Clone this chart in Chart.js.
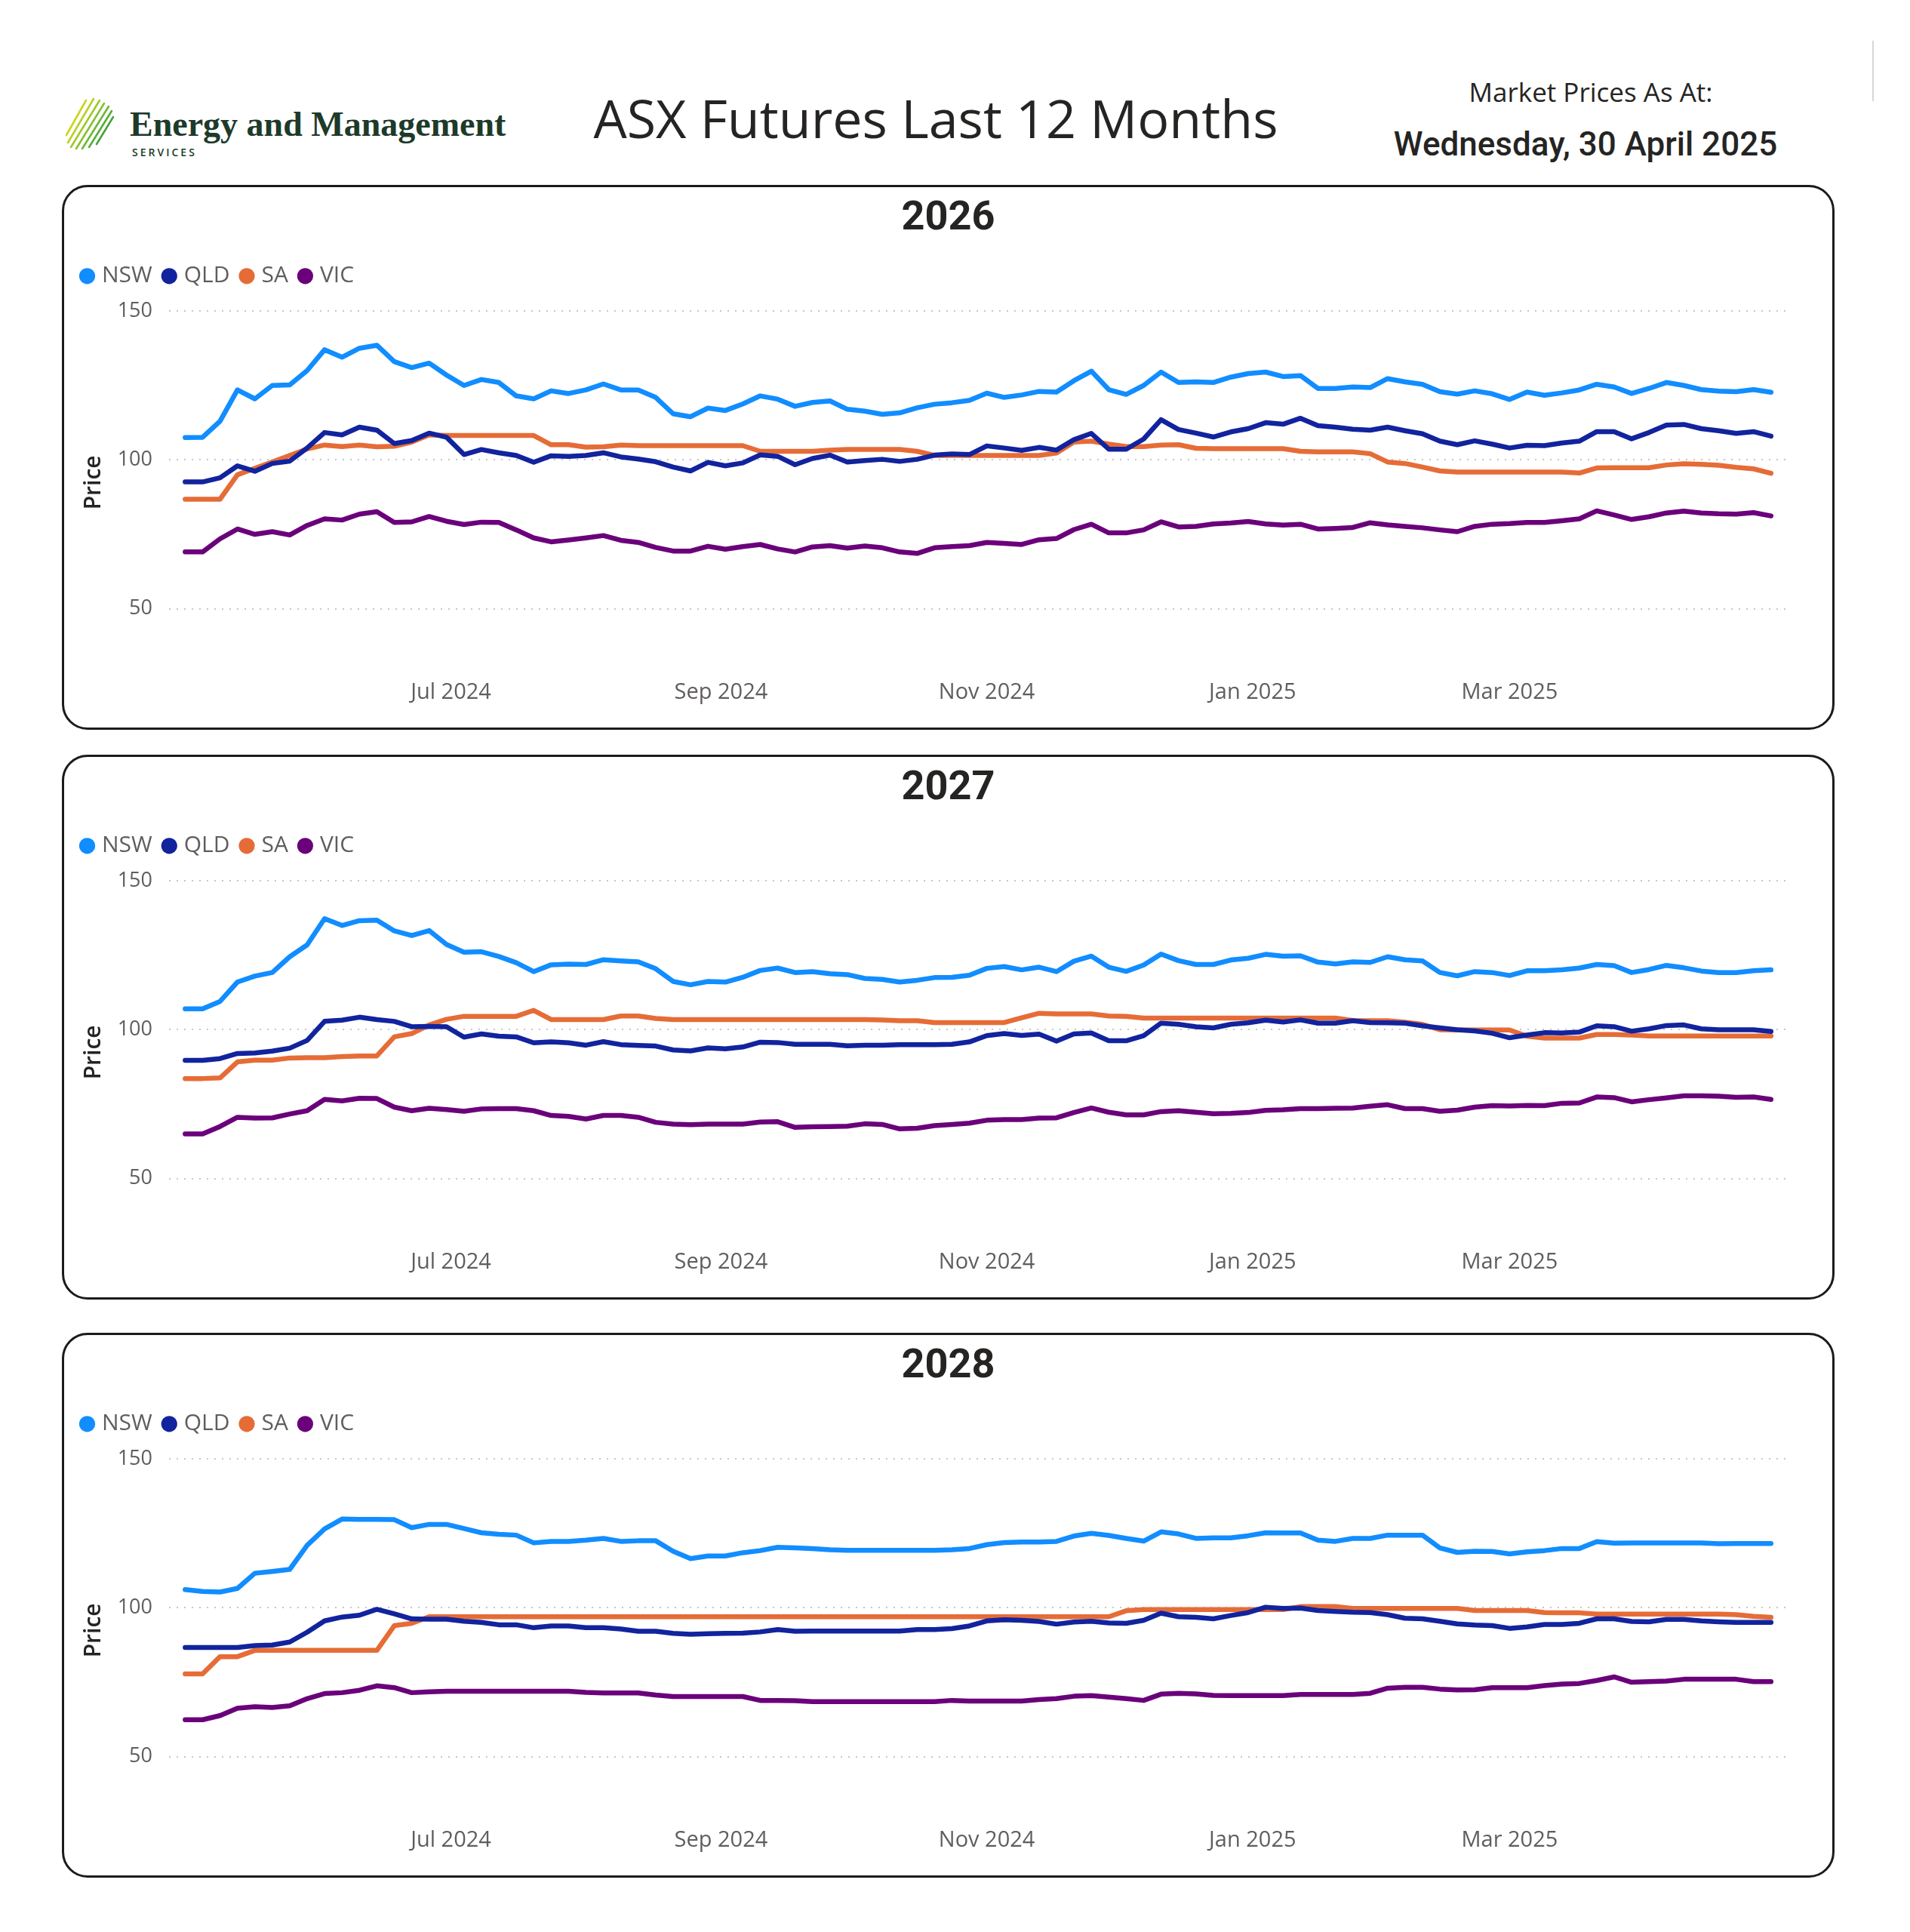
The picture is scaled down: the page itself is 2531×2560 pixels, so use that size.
<!DOCTYPE html>
<html>
<head>
<meta charset="utf-8">
<script src="https://cdn.jsdelivr.net/npm/chart.js@4.4.1/dist/chart.umd.min.js"></script>
<style>
  body { margin: 0; background: #fff; }
  #page { position: relative; width: 2531px; height: 2560px; overflow: hidden; font-family: 'Open Sans', sans-serif; color: #252423; }
  .abs { position: absolute; white-space: nowrap; }
  .panel { position: absolute; left: 82px; width: 2343px; height: 716px; border: 3px solid #1b1b1b; border-radius: 34px; }
  .panel canvas { position: absolute; left: 0; top: 0; }
</style>
</head>
<body>
<div id="page">
  <svg class="abs" style="left:84px;top:127px" width="74" height="74" viewBox="0 0 74 74">
    <g stroke-width="2.6" stroke-linecap="round">
      <line x1="4"  y1="52" x2="30" y2="6"  stroke="#c9d61a"/>
      <line x1="6"  y1="62" x2="40" y2="4"  stroke="#b7d027"/>
      <line x1="10" y1="68" x2="48" y2="6"  stroke="#9ec92d"/>
      <line x1="17" y1="70" x2="54" y2="10" stroke="#86c133"/>
      <line x1="25" y1="70" x2="60" y2="14" stroke="#6db838"/>
      <line x1="34" y1="68" x2="64" y2="20" stroke="#58ae3a"/>
      <line x1="44" y1="64" x2="66" y2="28" stroke="#47a43b"/>
    </g>
  </svg>
  <div class="abs" style="left:172px;top:142px;font-family:'Liberation Serif',serif;font-weight:bold;font-size:46px;line-height:46px;color:#1d3a2a">Energy and Management</div>
  <div class="abs" style="left:175px;top:194px;font-size:14px;line-height:16px;letter-spacing:3px;font-weight:600;color:#1d3a2a">SERVICES</div>
  <div class="abs" style="left:640px;width:1200px;top:116px;text-align:center;font-size:70px;line-height:80px">ASX Futures Last 12 Months</div>
  <div class="abs" style="left:1808px;width:600px;top:102px;text-align:center;font-size:35px;line-height:40px">Market Prices As At:</div>
  <div class="abs" style="left:1801px;width:600px;top:166px;text-align:center;font-family:Roboto,sans-serif;font-weight:500;font-size:44px;line-height:50px">Wednesday, 30 April 2025</div>
  <div class="abs" style="left:2481px;top:54px;width:2px;height:80px;background:#d6d6d6"></div>

  <div class="panel" style="top:245px"><canvas id="c2026" width="2343" height="716"></canvas></div>
  <div class="panel" style="top:1000px"><canvas id="c2027" width="2343" height="716"></canvas></div>
  <div class="panel" style="top:1766px"><canvas id="c2028" width="2343" height="716"></canvas></div>
</div>
<script>
// days since 1 May 2024, one reading every 4 days
const days = [
  0, 4, 8, 12, 16, 20, 24, 28, 32, 36,
  40, 44, 48, 52, 56, 60, 64, 68, 72, 76,
  80, 84, 88, 92, 96, 100, 104, 108, 112, 116,
  120, 124, 128, 132, 136, 140, 144, 148, 152, 156,
  160, 164, 168, 172, 176, 180, 184, 188, 192, 196,
  200, 204, 208, 212, 216, 220, 224, 228, 232, 236,
  240, 244, 248, 252, 256, 260, 264, 268, 272, 276,
  280, 284, 288, 292, 296, 300, 304, 308, 312, 316,
  320, 324, 328, 332, 336, 340, 344, 348, 352, 356,
  360, 364
];

// x axis labels (first of month)
const tickDays = [61, 123, 184, 245, 304];
const tickLabels = ['Jul 2024', 'Sep 2024', 'Nov 2024', 'Jan 2025', 'Mar 2025'];
const priceTicks = [50, 100, 150];

const states = ['NSW', 'QLD', 'SA', 'VIC'];
const colours = ['#118DFF', '#12239E', '#E66C37', '#6B007B'];

// ---- 2026 ----
const nsw2026 = [
  107.5, 107.6, 113, 123.5, 120.5, 125, 125.2, 130, 137, 134.5,
  137.5, 138.5, 133, 131, 132.5, 128.5, 125, 127, 126, 121.5,
  120.5, 123.2, 122.3, 123.5, 125.5, 123.5, 123.5, 121, 115.5, 114.5,
  117.4, 116.6, 118.8, 121.5, 120.4, 118, 119.3, 119.8, 117, 116.4,
  115.3, 115.8, 117.5, 118.7, 119.2, 120, 122.4, 121, 121.8, 123,
  122.8, 126.6, 129.8, 123.6, 122, 125, 129.5, 126, 126.2, 126,
  127.8, 129, 129.5, 128, 128.3, 124, 124, 124.5, 124.3, 127.3,
  126.2, 125.4, 122.9, 122.1, 123.2, 122.2, 120.3, 122.8, 121.7, 122.5,
  123.5, 125.4, 124.5, 122.3, 124, 126, 125, 123.6, 123.1, 122.9,
  123.6, 122.7
];
const qld2026 = [
  92.6, 92.6, 94, 98, 96.2, 98.8, 99.6, 104, 109.2, 108.4,
  111, 110, 105.5, 106.5, 109, 107.6, 101.8, 103.5, 102.4, 101.5,
  99.2, 101.4, 101.2, 101.5, 102.4, 101, 100.3, 99.4, 97.6, 96.3,
  99.2, 98, 99, 101.7, 101.2, 98.4, 100.5, 101.6, 99.3, 99.8,
  100.2, 99.5, 100.2, 101.6, 102, 101.8, 104.7, 104, 103.2, 104.2,
  103.3, 106.8, 108.9, 103.6, 103.6, 107, 113.5, 110.2, 109, 107.7,
  109.4, 110.5, 112.5, 112, 114, 111.5, 111, 110.3, 110, 111,
  109.8, 108.8, 106.3, 105.1, 106.4, 105.3, 104, 104.9, 104.8, 105.7,
  106.3, 109.5, 109.5, 107.1, 109.2, 111.7, 111.9, 110.5, 109.8, 108.9,
  109.5, 108
];
const sa2026 = [
  86.8, 86.8, 86.8, 95, 97.2, 99.3, 101.5, 103.7, 105, 104.5,
  105, 104.4, 104.6, 106, 108.4, 108.2, 108.2, 108.2, 108.2, 108.2,
  108.2, 105.1, 105.1, 104.3, 104.4, 105, 104.8, 104.8, 104.8, 104.8,
  104.8, 104.8, 104.8, 102.9, 102.9, 102.9, 102.9, 103.3, 103.5, 103.5,
  103.5, 103.5, 102.9, 101.5, 101.5, 101.5, 101.5, 101.5, 101.5, 101.5,
  102.3, 106, 106.3, 105.3, 104.5, 104.5, 105, 105.1, 103.9, 103.8,
  103.8, 103.8, 103.8, 103.8, 102.9, 102.7, 102.7, 102.7, 102.1, 99.3,
  98.8, 97.6, 96.3, 95.9, 95.9, 95.9, 95.9, 95.9, 95.9, 95.9,
  95.6, 97.3, 97.4, 97.4, 97.4, 98.3, 98.7, 98.5, 98.2, 97.5,
  97, 95.5
];
const vic2026 = [
  69.1, 69.1, 73.5, 76.8, 75, 75.9, 74.8, 78, 80.2, 79.8,
  81.8, 82.6, 79, 79.2, 81, 79.4, 78.3, 79.1, 79, 76.5,
  73.8, 72.5, 73.1, 73.8, 74.6, 73, 72.3, 70.6, 69.4, 69.4,
  71, 70, 70.9, 71.6, 70.1, 69.1, 70.8, 71.2, 70.4, 71.1,
  70.5, 69.1, 68.6, 70.5, 70.9, 71.2, 72.3, 72, 71.6, 73.2,
  73.6, 76.6, 78.4, 75.5, 75.5, 76.5, 79.2, 77.5, 77.7, 78.5,
  78.8, 79.3, 78.5, 78.1, 78.4, 76.8, 77, 77.3, 78.9, 78.2,
  77.7, 77.2, 76.5, 75.9, 77.7, 78.4, 78.6, 79, 79, 79.6,
  80.2, 82.9, 81.5, 80, 80.9, 82.2, 82.8, 82.2, 81.9, 81.8,
  82.3, 81.2
];

// ---- 2027 ----
const nsw2027 = [
  107, 107, 109.5, 116, 118, 119.2, 124.5, 128.5, 137.3, 135,
  136.6, 136.8, 133.2, 131.6, 133.3, 128.6, 126, 126.2, 124.6, 122.5,
  119.5, 121.8, 122, 121.9, 123.5, 123.1, 122.8, 120.5, 116.2, 115.1,
  116.2, 116, 117.6, 119.9, 120.7, 119.2, 119.5, 118.8, 118.5, 117.2,
  116.9, 116, 116.6, 117.5, 117.6, 118.3, 120.6, 121.2, 120.1, 121,
  119.5, 123, 124.7, 121, 119.6, 121.7, 125.4, 123.2, 121.9, 121.9,
  123.4, 124, 125.3, 124.7, 124.8, 122.7, 122.1, 122.8, 122.6, 124.5,
  123.5, 123.1, 119.2, 118.1, 119.5, 119.2, 118.2, 119.8, 119.8, 120.1,
  120.7, 121.9, 121.5, 119.2, 120.2, 121.6, 120.8, 119.7, 119.2, 119.2,
  119.8, 120.1
];
const qld2027 = [
  89.7, 89.7, 90.3, 92, 92.2, 92.8, 93.8, 96.4, 102.8, 103.2,
  104.2, 103.4, 102.8, 101, 101.1, 101, 97.5, 98.6, 97.8, 97.6,
  95.6, 95.9, 95.6, 94.8, 96, 95, 94.7, 94.5, 93.2, 92.9,
  93.9, 93.6, 94.2, 95.8, 95.7, 95.1, 95.1, 95.1, 94.6, 94.8,
  94.8, 95, 95, 95, 95.1, 95.9, 98, 98.7, 98.1, 98.5,
  96.2, 98.6, 98.9, 96.3, 96.3, 98, 102.2, 101.8, 101, 100.6,
  101.8, 102.3, 103.2, 102.6, 103.3, 102.2, 102.2, 103, 102.4, 102.3,
  102.2, 101.3, 100.6, 100, 99.6, 98.8, 97.3, 98.2, 99, 98.9,
  99.2, 101.3, 101, 99.5, 100.3, 101.4, 101.6, 100.3, 100, 100,
  100, 99.4
];
const sa2027 = [
  83.6, 83.6, 83.8, 89.2, 89.8, 89.8, 90.5, 90.6, 90.6, 91,
  91.2, 91.2, 97.6, 98.7, 101.6, 103.5, 104.5, 104.5, 104.5, 104.5,
  106.5, 103.4, 103.4, 103.4, 103.4, 104.6, 104.6, 103.8, 103.4, 103.4,
  103.4, 103.4, 103.4, 103.4, 103.4, 103.4, 103.4, 103.4, 103.4, 103.4,
  103.3, 103, 103, 102.4, 102.4, 102.4, 102.4, 102.4, 104, 105.5,
  105.3, 105.3, 105.3, 104.6, 104.5, 103.9, 103.9, 103.9, 103.9, 103.9,
  103.9, 103.9, 103.9, 103.9, 103.9, 103.9, 103.9, 103.1, 103, 103,
  102.5, 101.8, 100, 99.9, 99.9, 99.9, 99.9, 97.8, 97.2, 97.2,
  97.2, 98.4, 98.4, 98.2, 97.9, 97.9, 97.9, 97.9, 97.9, 97.9,
  97.9, 97.9
];
const vic2027 = [
  65, 65, 67.5, 70.6, 70.3, 70.4, 71.7, 72.8, 76.6, 76.1,
  77, 76.9, 74, 72.8, 73.6, 73.2, 72.6, 73.4, 73.5, 73.5,
  72.8, 71.2, 70.9, 70, 71.2, 71.2, 70.6, 68.9, 68.3, 68.1,
  68.3, 68.3, 68.3, 69, 69.1, 67.2, 67.4, 67.5, 67.6, 68.4,
  68.2, 66.7, 66.9, 67.8, 68.2, 68.6, 69.6, 69.8, 69.8, 70.3,
  70.4, 72.2, 73.7, 72.3, 71.4, 71.4, 72.5, 72.8, 72.3, 71.8,
  71.9, 72.2, 72.9, 73.1, 73.5, 73.5, 73.6, 73.7, 74.3, 74.8,
  73.5, 73.5, 72.6, 73, 74, 74.5, 74.4, 74.6, 74.5, 75.3,
  75.4, 77.4, 77.2, 75.8, 76.5, 77.1, 77.8, 77.8, 77.7, 77.3,
  77.4, 76.6
];

// ---- 2028 ----
const nsw2028 = [
  106.1, 105.5, 105.3, 106.5, 111.6, 112.2, 112.9, 121, 126.5, 129.8,
  129.7, 129.7, 129.6, 126.9, 128, 128, 126.6, 125.2, 124.7, 124.4,
  121.8, 122.3, 122.3, 122.7, 123.3, 122.3, 122.5, 122.5, 119, 116.5,
  117.4, 117.4, 118.5, 119.2, 120.3, 120.1, 119.9, 119.5, 119.3, 119.3,
  119.3, 119.3, 119.3, 119.3, 119.5, 119.9, 121.2, 121.9, 122.1, 122.1,
  122.3, 124.1, 125, 124.3, 123.3, 122.4, 125.5, 124.8, 123.3, 123.5,
  123.5, 124.2, 125.2, 125.1, 125.1, 122.7, 122.3, 123.3, 123.3, 124.4,
  124.4, 124.4, 120.1, 118.6, 119, 118.9, 118.1, 118.8, 119.2, 119.9,
  119.9, 122.2, 121.7, 121.8, 121.8, 121.8, 121.8, 121.8, 121.5, 121.6,
  121.6, 121.6
];
const qld2028 = [
  86.7, 86.7, 86.7, 86.7, 87.3, 87.5, 88.5, 91.8, 95.6, 96.9,
  97.5, 99.5, 98, 96.3, 96.2, 96.2, 95.5, 95.1, 94.3, 94.3,
  93.3, 93.9, 93.9, 93.3, 93.3, 92.9, 92.1, 92.1, 91.4, 91.1,
  91.3, 91.4, 91.5, 91.9, 92.7, 92.1, 92.2, 92.2, 92.2, 92.2,
  92.2, 92.2, 92.7, 92.7, 93, 93.9, 95.6, 96, 95.8, 95.4,
  94.5, 95.2, 95.5, 94.9, 94.8, 95.8, 98.2, 97, 96.8, 96.3,
  97.4, 98.4, 100.2, 99.8, 99.9, 99.1, 98.8, 98.5, 98.4, 97.7,
  96.5, 96.3, 95.5, 94.6, 94.2, 94, 93.1, 93.6, 94.4, 94.4,
  94.8, 96.3, 96.3, 95.4, 95.3, 96.1, 96.1, 95.6, 95.3, 95.1,
  95.1, 95.1
];
const sa2028 = [
  77.8, 77.8, 83.6, 83.6, 85.7, 85.7, 85.7, 85.7, 85.7, 85.7,
  85.7, 85.7, 94, 94.8, 97, 97, 97, 97, 97, 97,
  97, 97, 97, 97, 97, 97, 97, 97, 97, 97,
  97, 97, 97, 97, 97, 97, 97, 97, 97, 97,
  97, 97, 97, 97, 97, 97, 97, 97, 97, 97,
  97, 97, 97, 97, 99, 99.4, 99.4, 99.4, 99.4, 99.4,
  99.4, 99.4, 99.4, 99.4, 100.4, 100.4, 100.4, 99.8, 99.8, 99.8,
  99.8, 99.8, 99.8, 99.8, 99.1, 99.1, 99.1, 99.1, 98.4, 98.3,
  98.3, 97.9, 97.9, 97.9, 97.9, 97.9, 97.9, 97.9, 97.9, 97.7,
  97.1, 96.8
];
const vic2028 = [
  62.4, 62.4, 63.8, 66.3, 66.8, 66.5, 67.1, 69.5, 71.2, 71.5,
  72.3, 73.8, 73.2, 71.5, 71.8, 72, 72, 72, 72, 72,
  72, 72, 72, 71.6, 71.4, 71.4, 71.4, 70.7, 70.2, 70.2,
  70.2, 70.2, 70.2, 68.9, 68.9, 68.8, 68.5, 68.5, 68.5, 68.5,
  68.5, 68.5, 68.5, 68.5, 68.9, 68.7, 68.7, 68.7, 68.7, 69.2,
  69.5, 70.3, 70.5, 70, 69.5, 68.9, 71, 71.3, 71.1, 70.6,
  70.5, 70.5, 70.5, 70.5, 70.9, 70.9, 70.9, 70.9, 71.3, 73,
  73.3, 73.3, 72.7, 72.4, 72.5, 73.2, 73.2, 73.2, 73.9, 74.4,
  74.6, 75.6, 76.8, 75, 75.2, 75.4, 76, 76, 76, 76,
  75.2, 75.2
];

const textGrey = '#605E5C';

function drawPanel(id, title, rows) {
  new Chart(document.getElementById(id), {
    type: 'line',
    data: {
      datasets: rows.map((vals, i) => ({
        label: states[i],
        data: days.map((d, j) => ({ x: d, y: vals[j] })),
        borderColor: colours[i],
        backgroundColor: colours[i],
        borderWidth: 6.5,
        pointRadius: 0,
        pointStyle: 'circle',
        tension: 0,
        borderJoinStyle: 'round',
        borderCapStyle: 'round'
      }))
    },
    options: {
      responsive: false,
      animation: false,
      devicePixelRatio: 1,
      layout: { padding: { left: 8, right: 8, top: 0, bottom: 30 } },
      plugins: {
        title: {
          display: true,
          text: title,
          color: '#252423',
          font: { family: 'Roboto', size: 54, weight: 'bold', lineHeight: 1.2 },
          padding: { top: 10, bottom: 10 }
        },
        legend: {
          display: true,
          align: 'start',
          labels: {
            usePointStyle: true,
            pointStyle: 'circle',
            boxWidth: 9,
            boxHeight: 15,
            padding: 18,
            color: textGrey,
            font: { family: 'Open Sans', size: 30 },
            generateLabels: chart =>
              Chart.defaults.plugins.legend.labels.generateLabels(chart)
                .map(l => ({ ...l, lineWidth: 0 }))
          }
        },
        tooltip: { enabled: false }
      },
      scales: {
        x: {
          type: 'linear',
          min: -3.7,
          max: 367.5,
          grid: { display: false, drawTicks: false },
          border: { display: false },
          afterBuildTicks: s => { s.ticks = tickDays.map(v => ({ value: v })); },
          afterFit: s => { s.height = 46; },
          ticks: {
            autoSkip: false,
            maxRotation: 0,
            padding: 12,
            color: textGrey,
            font: { family: 'Open Sans', size: 29 },
            callback: v => tickLabels[tickDays.indexOf(v)]
          }
        },
        y: {
          min: 29.4,
          max: 155.4,
          grid: { color: '#C8C6C4', lineWidth: 2, drawTicks: false },
          border: { display: false, dash: [2, 8] },
          afterBuildTicks: s => { s.ticks = priceTicks.map(v => ({ value: v })); },
          afterFit: s => { s.width = 131; },
          ticks: {
            padding: 22,
            color: textGrey,
            font: { family: 'Open Sans', size: 27 }
          },
          title: {
            display: true,
            text: 'Price',
            color: '#252423',
            font: { family: 'Open Sans', size: 30, weight: '600', lineHeight: 1.2 },
            padding: { top: 13.5, bottom: 0 }
          }
        },
        // empty right-hand gutter so the panel title sits centred on the card
        gutter: {
          type: 'linear',
          position: 'right',
          grid: { display: false, drawTicks: false },
          border: { display: false },
          ticks: { display: false },
          afterFit: s => { s.width = 53; }
        }
      }
    }
  });
}

drawPanel('c2026', '2026', [nsw2026, qld2026, sa2026, vic2026]);
drawPanel('c2027', '2027', [nsw2027, qld2027, sa2027, vic2027]);
drawPanel('c2028', '2028', [nsw2028, qld2028, sa2028, vic2028]);
</script>
</body>
</html>
